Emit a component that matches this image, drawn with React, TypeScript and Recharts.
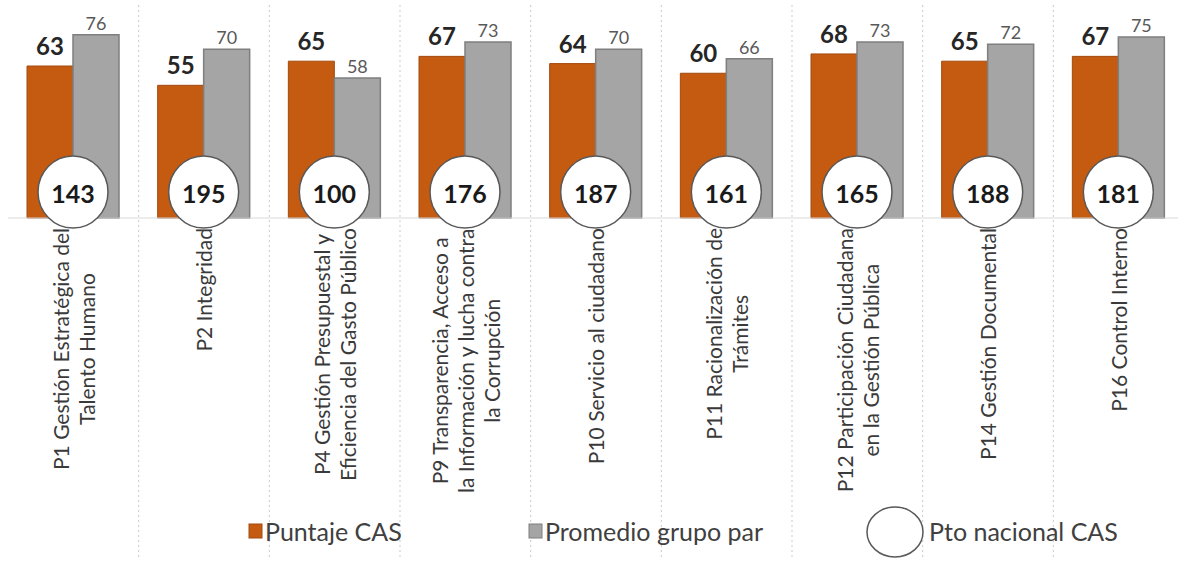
import React from 'react';
import { BarChart, Bar, XAxis, YAxis, LabelList, Legend } from 'recharts';

// ---- data ----
const categories: string[] = [
  'P1 Gestión Estratégica del\nTalento Humano',
  'P2 Integridad',
  'P4 Gestión Presupuestal y\nEficiencia del Gasto Público',
  'P9 Transparencia, Acceso a\nla Información y lucha contra\nla Corrupción',
  'P10 Servicio al ciudadano',
  'P11 Racionalización de\nTrámites',
  'P12 Participación Ciudadana\nen la Gestión Pública',
  'P14 Gestión Documental',
  'P16 Control Interno',
];
const puntajeCAS: number[] = [63, 55, 65, 67, 64, 60, 68, 65, 67];
const promedioGrupoPar: number[] = [76, 70, 58, 73, 70, 66, 73, 72, 75];
const ptoNacionalCAS: number[] = [143, 195, 100, 176, 187, 161, 165, 188, 181];
const legendLabels: string[] = ['Puntaje CAS', 'Promedio grupo par', 'Pto nacional CAS'];

const data = categories.map((name, i) => ({
  name,
  cas: puntajeCAS[i],
  par: promedioGrupoPar[i],
  nac: ptoNacionalCAS[i],
}));

// ---- layout ----
const CHART_W = 1200;
const CHART_H = 563;
const X_AXIS_H = 300;
const MARGIN = { top: 25, right: 16, left: 8, bottom: 45 };
const PLOT_W = CHART_W - MARGIN.left - MARGIN.right;
const AXIS_Y = CHART_H - MARGIN.bottom - X_AXIS_H;
const STEP = PLOT_W / categories.length;
const FONT = 'Lato, "Open Sans", sans-serif';
const LABEL_FS = 21;
const LINE_H = 26;

const ORANGE = '#C55A11';
const GRAY = '#A5A5A5';

let ctx: CanvasRenderingContext2D | null = null;
function measure(text: string, font: string): number {
  if (!ctx) ctx = document.createElement('canvas').getContext('2d');
  if (!ctx) return text.length * 9;
  ctx.font = font;
  return ctx.measureText(text).width;
}

const AxisTick = (props: any) => {
  const { x, payload, index } = props;
  const lines = String(payload.value).split('\n');
  const maxW = Math.max(...lines.map((l) => measure(l, `${LABEL_FS}px Lato`)));
  const cy = AXIS_Y + 10 + maxW / 2;
  const n = lines.length;
  return (
    <g>
      {index < categories.length - 1 && (
        <line
          x1={x + STEP / 2}
          x2={x + STEP / 2}
          y1={5}
          y2={557}
          stroke="#C9C9C9"
          strokeWidth={1}
          strokeDasharray="2 3"
        />
      )}
      {lines.map((l, i) => {
        const lx = x + (i - (n - 1) / 2) * LINE_H;
        return (
          <text
            key={i}
            x={lx}
            y={cy}
            transform={`rotate(-90, ${lx}, ${cy})`}
            textAnchor="middle"
            dominantBaseline="central"
            fontFamily={FONT}
            fontSize={LABEL_FS}
            fill="#3A3A3A"
          >
            {l}
          </text>
        );
      })}
    </g>
  );
};

const NationalBadge = (props: any) => {
  const vb = props.viewBox || props;
  const { x, y, height } = vb;
  const value = props.value;
  const cx = x;
  const cy = y + height - 26;
  return (
    <g>
      <ellipse cx={cx} cy={cy} rx={35} ry={36} fill="#FFFFFF" stroke="#595959" strokeWidth={1.5} />
      <text
        x={cx}
        y={cy + 1}
        textAnchor="middle"
        dominantBaseline="central"
        fontFamily={FONT}
        fontWeight={700}
        fontSize={25}
        fill="#1A1A1A"
      >
        {value}
      </text>
    </g>
  );
};

const LegendContent = () => (
  <svg width={1178} height={63} style={{ display: 'block' }}>
    <rect x={249} y={24} width={13} height={14} fill={ORANGE} stroke="#A34A0E" strokeWidth={1} />
    <text x={265} y={31} dominantBaseline="central" fontFamily={FONT} fontSize={25} fill="#404040">
      {legendLabels[0]}
    </text>
    <rect x={529} y={24} width={13} height={14} fill={GRAY} stroke="#7F7F7F" strokeWidth={1} />
    <text x={545} y={31} dominantBaseline="central" fontFamily={FONT} fontSize={25} fill="#404040">
      {legendLabels[1]}
    </text>
    <ellipse cx={895} cy={32} rx={28} ry={25} fill="#FFFFFF" stroke="#595959" strokeWidth={1.5} />
    <text x={929} y={31} dominantBaseline="central" fontFamily={FONT} fontSize={25} fill="#404040">
      {legendLabels[2]}
    </text>
  </svg>
);

export default function App() {
  return (
    <div
      style={{
        position: 'absolute',
        left: 0,
        top: 0,
        width: 1178,
        height: 563,
        overflow: 'hidden',
        background: '#FFFFFF',
      }}
    >
      <BarChart
        width={CHART_W}
        height={CHART_H}
        data={data}
        margin={MARGIN}
        barCategoryGap={19}
        barGap={0}
      >
        <XAxis
          dataKey="name"
          height={X_AXIS_H}
          interval={0}
          tickLine={false}
          axisLine={{ stroke: '#D9D9D9', strokeWidth: 1 }}
          tick={<AxisTick />}
        />
        <YAxis hide domain={[0, 80]} />
        <Bar dataKey="cas" fill={ORANGE} stroke="#A34A0E" strokeWidth={1} isAnimationActive={false}>
          <LabelList
            dataKey="cas"
            position="top"
            offset={11}
            fill="#262626"
            fontFamily={FONT}
            fontWeight={700}
            fontSize={24}
          />
        </Bar>
        <Bar dataKey="par" fill={GRAY} stroke="#7F7F7F" strokeWidth={1.5} isAnimationActive={false}>
          <LabelList
            dataKey="par"
            position="top"
            offset={5}
            fill="#595959"
            fontFamily={FONT}
            fontSize={18}
          />
          <LabelList dataKey="nac" content={<NationalBadge />} />
        </Bar>
        <Legend
          verticalAlign="middle"
          align="center"
          layout="horizontal"
          wrapperStyle={{ top: 500, left: 0, width: 1178, height: 63 }}
          content={() => <LegendContent />}
        />
      </BarChart>
    </div>
  );
}
